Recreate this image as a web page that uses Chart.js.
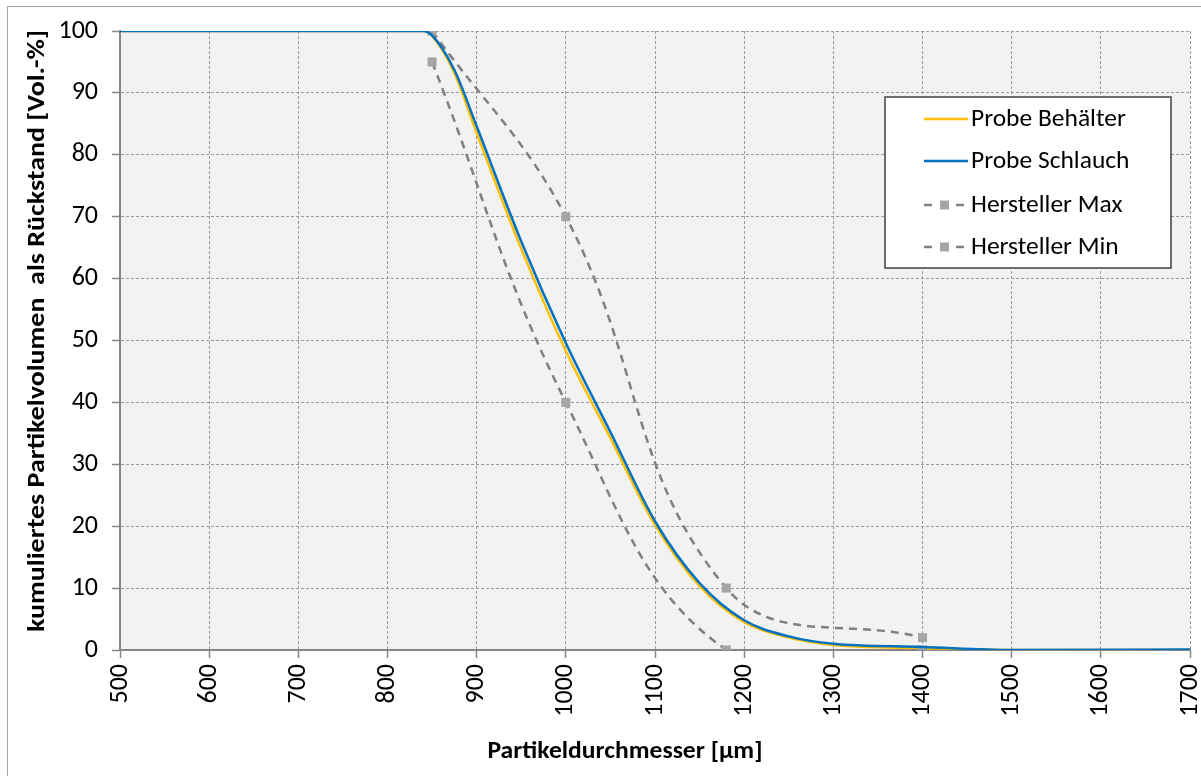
<!DOCTYPE html>
<html>
<head>
<meta charset="utf-8">
<script src="https://cdn.jsdelivr.net/npm/chart.js@4"></script>
<style>
  html, body { margin: 0; padding: 0; background: #fff; overflow: hidden; }
  #rahmen { position: absolute; left: 7px; top: 6px; width: 1200px; height: 780px; border: 1px solid #a6a6a6; }
  #wrap { position: absolute; left: 0; top: 0; width: 1201px; height: 776px; }
</style>
</head>
<body>
<div id="rahmen"></div>
<div id="wrap"><canvas id="grafica"></canvas></div>
<script>
//DATOS
const probeX = [500, 710, 840, 850, 875, 900, 950, 1000, 1050, 1100, 1150, 1200, 1250, 1300, 1400, 1500, 1700];
const behaelterY = [100, 100, 100, 99.2, 93.2, 83.5, 64.8, 48.3, 34.2, 20.2, 10.3, 4.5, 2.0, 0.8, 0.3, 0, 0];
const schlauchY = [100, 100, 100, 99.3, 93.7, 84.6, 66, 49.6, 35.2, 20.8, 10.8, 4.8, 2.2, 1.0, 0.5, 0, 0.1];
const herstellerX = [850, 1000, 1180, 1400];
const herstellerMaxY = [100, 70, 10, 2];
const herstellerMinY = [95, 40, 0, 0];
const xTicks = [500, 600, 700, 800, 900, 1000, 1100, 1200, 1300, 1400, 1500, 1600, 1700];
const yTicks = [0, 10, 20, 30, 40, 50, 60, 70, 80, 90, 100];
const labels = ['Probe Behälter', 'Probe Schlauch', 'Hersteller Max', 'Hersteller Min'];
const xTitle = 'Partikeldurchmesser [µm]';
const yTitle = 'kumuliertes Partikelvolumen  als Rückstand [Vol.-%]';
//DATOS

const fuente = 'Carlito, Lato, sans-serif';
const grau = '#868686';

function punkte(xs, ys) { //arma los pares x/y
    return xs.map((x, i) => ({ x: x, y: ys[i] }));
}

const datasets = [
    { label: labels[0], data: punkte(probeX, behaelterY), borderColor: '#ffc000', borderWidth: 2.5, pointRadius: 0, order: 1,
      cubicInterpolationMode: 'monotone' },
    { label: labels[1], data: punkte(probeX, schlauchY), borderColor: '#0070c0', borderWidth: 2.5, pointRadius: 0, order: 0,
      cubicInterpolationMode: 'monotone' },
    { label: labels[2], data: punkte(herstellerX, herstellerMaxY), borderColor: '#808080', borderWidth: 2.5, borderDash: [8, 6],
      pointStyle: 'rect', pointRadius: 6.4, pointBackgroundColor: '#a5a5a5', pointBorderWidth: 0, order: 0 },
    { label: labels[3], data: punkte(herstellerX, herstellerMinY), borderColor: '#808080', borderWidth: 2.5, borderDash: [8, 6],
      pointStyle: 'rect', pointRadius: 6.4, pointBackgroundColor: '#a5a5a5', pointBorderWidth: 0, order: 0 }
];
datasets.forEach(d => { d.showLine = true; d.tension = 0.4; d.fill = false; d.backgroundColor = d.borderColor; });

//fondo gris del area
const fondo = {
    id: 'fondo',
    beforeDraw(chart) {
        const a = chart.chartArea, ctx = chart.ctx;
        ctx.save();
        ctx.fillStyle = '#f2f2f2';
        ctx.fillRect(a.left, a.top, a.right - a.left, a.bottom - a.top);
        ctx.restore();
    }
};

function textoAncho(ctx, txt, ancho) { //escribe el texto con el ancho dado
    const w = ctx.measureText(txt).width;
    ctx.save();
    ctx.scale(ancho / w, 1);
    ctx.fillText(txt, 0, 0);
    ctx.restore();
}

//titulos de ejes y leyenda
const extras = {
    id: 'extras',
    afterDraw(chart) {
        const ctx = chart.ctx;
        ctx.save();
        ctx.fillStyle = '#000';
        ctx.font = 'bold 24px ' + fuente;
        ctx.textAlign = 'center';
        ctx.textBaseline = 'middle';
        ctx.save();
        ctx.translate(625, 752);
        textoAncho(ctx, xTitle, 275);
        ctx.restore();
        ctx.translate(38, 331);
        ctx.rotate(-Math.PI / 2);
        textoAncho(ctx, yTitle, 602);
        ctx.restore();

        // leyenda
        const bx = 885, by = 97, bw = 286, bh = 171;
        ctx.save();
        ctx.fillStyle = '#fff';
        ctx.fillRect(bx, by, bw, bh);
        ctx.strokeStyle = '#404040';
        ctx.lineWidth = 1.5;
        ctx.strokeRect(bx, by, bw, bh);
        const filas = [119, 161, 205, 247];
        chart.data.datasets.forEach((d, i) => {
            const y = filas[i];
            ctx.strokeStyle = d.borderColor;
            ctx.lineWidth = d.borderWidth;
            ctx.setLineDash(d.borderDash ? [8, 8] : []);
            ctx.beginPath();
            ctx.moveTo(924, y);
            ctx.lineTo(968, y);
            ctx.stroke();
            ctx.setLineDash([]);
            if (d.pointRadius) {
                ctx.fillStyle = d.pointBackgroundColor;
                ctx.fillRect(940, y - 4.5, 9, 9);
            }
            ctx.fillStyle = '#000';
            ctx.font = '25.5px ' + fuente;
            ctx.textAlign = 'left';
            ctx.textBaseline = 'middle';
            ctx.fillText(d.label, 971, y + 1);
        });
        ctx.restore();
    }
};

const chart = new Chart(document.getElementById('grafica'), {
    type: 'scatter',
    data: { datasets: datasets },
    options: {
        responsive: true,
        maintainAspectRatio: false,
        animation: false,
        events: [],
        layout: { padding: { top: 31, right: 11, left: 0, bottom: 0 } },
        elements: { line: { capBezierPoints: false } },
        plugins: { legend: { display: false }, tooltip: { enabled: false } },
        scales: {
            x: {
                type: 'linear', min: 500, max: 1700,
                afterBuildTicks: s => { s.ticks = xTicks.map(v => ({ value: v })); },
                afterFit: s => { s.height = 126; s.paddingLeft = 0; s.paddingRight = 0; },
                ticks: { autoSkip: false, minRotation: 90, maxRotation: 90, padding: 6, color: '#000',
                         font: { family: fuente, size: 26 }, callback: v => String(v) },
                grid: { color: '#9a9a9a', lineWidth: 1, tickLength: 8, tickColor: grau, tickBorderDash: [], tickWidth: 1.5 },
                border: { display: true, color: grau, width: 2, dash: [3, 2] }
            },
            y: {
                type: 'linear', min: 0, max: 100,
                afterBuildTicks: s => { s.ticks = yTicks.map(v => ({ value: v })); },
                afterFit: s => { s.width = 120; s.paddingTop = 0; s.paddingBottom = 0; },
                ticks: { padding: 14, color: '#000', font: { family: fuente, size: 26 }, callback: v => String(v) },
                grid: { color: '#9a9a9a', lineWidth: 1, tickLength: 8, tickColor: grau, tickBorderDash: [], tickWidth: 1.5 },
                border: { display: true, color: grau, width: 2, dash: [3, 2] }
            }
        }
    },
    plugins: [fondo, extras]
});
</script>
</body>
</html>
